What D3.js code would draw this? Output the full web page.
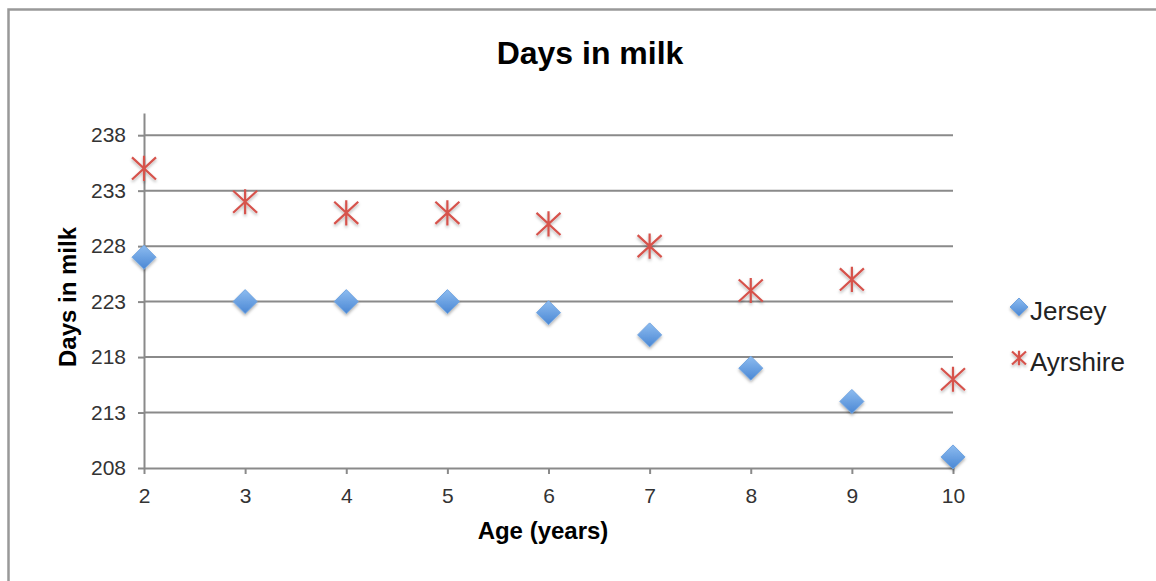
<!DOCTYPE html>
<html><head><meta charset="utf-8">
<script src="https://cdn.jsdelivr.net/npm/d3@7"></script>
<style>body{margin:0;background:#fff}svg{display:block;font-family:"Liberation Sans",Arial,sans-serif}</style>
</head><body><svg id="c" width="1156" height="581"></svg>
<script>
const ages = [2,3,4,5,6,7,8,9,10];
const jersey = [227,223,223,223,222,220,217,214,209];
const ayrshire = [235,232,231,231,230,228,224,225,216];
const yTicks = [208,213,218,223,228,233,238];
const xTicks = [2,3,4,5,6,7,8,9,10];
const seriesNames = ["Jersey","Ayrshire"];

const svg = d3.select("#c");
const defs = svg.append("defs");
const g1 = defs.append("linearGradient").attr("id","dg").attr("x1",0).attr("y1",0).attr("x2",0).attr("y2",1);
g1.append("stop").attr("offset","0%").attr("stop-color","#8dbcf0");
g1.append("stop").attr("offset","100%").attr("stop-color","#4a87d4");
const f = defs.append("filter").attr("id","sh").attr("x","-50%").attr("y","-50%").attr("width","200%").attr("height","200%");
f.append("feDropShadow").attr("dx",0).attr("dy",2).attr("stdDeviation",1.5).attr("flood-color","#000").attr("flood-opacity",0.3);

// frame
svg.append("path").attr("d","M8.5,581 V9.5 H1156").attr("fill","none").attr("stroke","#999").attr("stroke-width",2.5);

const x = d3.scaleLinear().domain([2,10]).range([144,953]);
const y = d3.scaleLinear().domain([208,240]).range([468,113]);

// gridlines
svg.append("g").selectAll("line").data(yTicks.slice(1)).join("line")
  .attr("x1",x(2)).attr("x2",x(10)).attr("y1",d=>y(d)).attr("y2",d=>y(d))
  .attr("stroke","#8a8a8a").attr("stroke-width",2);

// y axis
const ya = svg.append("g").attr("transform",`translate(${x(2)},0)`)
  .call(d3.axisLeft(y).tickValues(yTicks).tickSize(6).tickSizeOuter(0).tickPadding(12));
ya.select(".domain").attr("stroke","#8a8a8a").attr("stroke-width",2);
ya.selectAll(".tick line").attr("stroke","#8a8a8a").attr("stroke-width",2);
ya.selectAll("text").attr("font-size",21).attr("fill","#333").attr("font-family","Liberation Sans, Arial");

// x axis
const xa = svg.append("g").attr("transform",`translate(0,${y(208)})`)
  .call(d3.axisBottom(x).tickValues(xTicks).tickFormat(d3.format("d")).tickSize(6).tickSizeOuter(0).tickPadding(14));
xa.select(".domain").attr("stroke","#8a8a8a").attr("stroke-width",2);
xa.selectAll(".tick line").attr("stroke","#8a8a8a").attr("stroke-width",2);
xa.selectAll("text").attr("font-size",21).attr("fill","#333").attr("font-family","Liberation Sans, Arial");

// titles
svg.append("text").attr("x",590).attr("y",64).attr("text-anchor","middle").attr("font-weight","bold").attr("font-size",32).attr("fill","#000").text("Days in milk");
svg.append("text").attr("transform","translate(76,297) rotate(-90)").attr("text-anchor","middle").attr("font-weight","bold").attr("font-size",24).attr("fill","#000").text("Days in milk");
svg.append("text").attr("x",543).attr("y",539).attr("text-anchor","middle").attr("font-weight","bold").attr("font-size",24).attr("fill","#000").text("Age (years)");

function diamond(sel, r){
  sel.append("path").attr("d",`M0,${-r} L${r},0 L0,${r} L${-r},0 Z`)
    .attr("fill","url(#dg)").attr("stroke","#6fa3e0").attr("stroke-width",1).attr("filter","url(#sh)");
}
function star(sel, r){
  const h = r*0.92;
  sel.append("path").attr("d",`M${-r},${-h} L${r},${h} M${r},${-h} L${-r},${h} M0,${-r*1.05} V${r*1.05}`)
    .attr("fill","none").attr("stroke","#d6524c").attr("stroke-width",2.2).attr("filter","url(#sh)");
}

// points
svg.append("g").selectAll("g").data(ages.map((a,i)=>({a,v:jersey[i]}))).join("g")
  .attr("transform",d=>`translate(${x(d.a)},${y(d.v)})`).each(function(){diamond(d3.select(this),12);});
svg.append("g").selectAll("g").data(ages.map((a,i)=>({a,v:ayrshire[i]}))).join("g")
  .attr("transform",d=>`translate(${x(d.a)},${y(d.v)})`).each(function(){star(d3.select(this),12);});

// legend
const lg = svg.append("g");
const l1 = lg.append("g").attr("transform","translate(1019,307)"); diamond(l1,9);
const l2 = lg.append("g").attr("transform","translate(1019,358)"); star(l2,7);
lg.append("text").attr("x",1030).attr("y",320).attr("font-size",26).attr("fill","#222").text(seriesNames[0]);
lg.append("text").attr("x",1030).attr("y",371).attr("font-size",26).attr("fill","#222").text(seriesNames[1]);
</script></body></html>
